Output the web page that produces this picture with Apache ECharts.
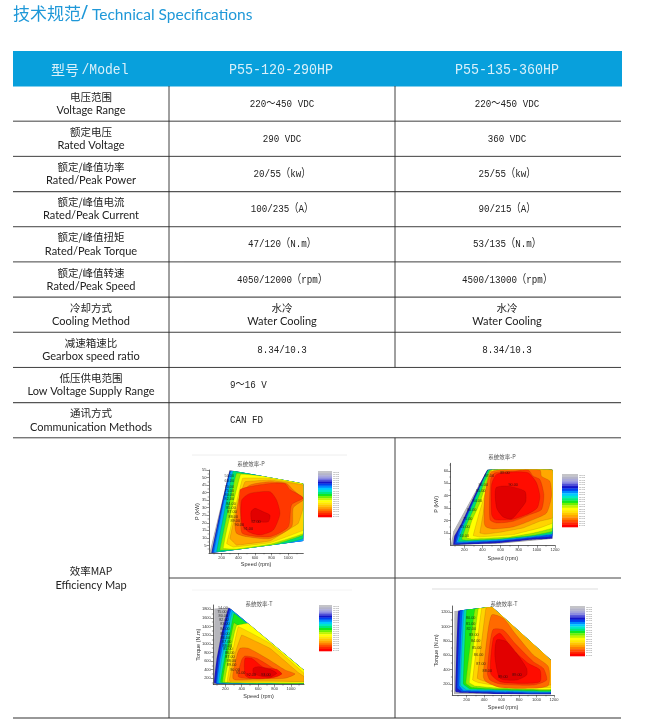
<!DOCTYPE html>
<html><head><meta charset="utf-8">
<style>html,body{margin:0;padding:0;background:#fff}#c{width:663px;height:727px;filter:blur(.3px)}</style>
<script src="https://cdn.jsdelivr.net/npm/echarts@6/dist/echarts.min.js"></script>
</head><body><div id="c"></div>
<script>
// ---------- table content ----------
const rowZh=["电压范围","额定电压","额定/峰值功率","额定/峰值电流","额定/峰值扭矩","额定/峰值转速","冷却方式","减速箱速比","低压供电范围","通讯方式"];
const rowEn=["Voltage Range","Rated Voltage","Rated/Peak Power","Rated/Peak Current","Rated/Peak Torque","Rated/Peak Speed","Cooling Method","Gearbox speed ratio","Low Voltage Supply Range","Communication Methods"];
const model1=["220～450 VDC","290 VDC","20/55（kw）","100/235（A）","47/120（N.m）","4050/12000（rpm）","水冷|Water Cooling","8.34/10.3","9～16 V","CAN FD"];
const model2=["220～450 VDC","360 VDC","25/55（kw）","90/215（A）","53/135（N.m）","4500/13000（rpm）","水冷|Water Cooling","8.34/10.3","",""];
const modelNames=["P55-120-290HP","P55-135-360HP"];

// ---------- efficiency contours: outlines in [speed, value], outermost first ----------
const map1Bands=[
[[52,0],[292,55],[1180,46],[1180,7.9],[80,0]],
[[80,0],[300,54.5],[1180,46.1],[1180,7.4],[100,0]],
[[88,0],[305,54.3],[1180,46.1],[1180,6.3],[800,2],[100,.3]],
[[108,.5],[312,54.3],[1180,46],[1180,7],[800,3],[400,1],[120,.3]],
[[140,.8],[340,54.3],[1180,46],[1180,9.6],[780,3.7],[380,1.2],[150,.8]],
[[180,1.9],[380,52.8],[1180,46],[1180,12],[800,5],[400,2],[200,2]],
[[220,3],[260,15],[428,52.1],[780,50.6],[1180,46],[1180,13],[780,5.8],[380,2.6]],
[[260,6.3],[300,15],[452,49.5],[780,49.5],[1180,45],[1180,15.2],[780,6.8],[340,3.9]],
[[300,9.6],[400,35],[480,47.2],[780,48.4],[1180,45],[1180,30],[1120,19.6],[780,8],[380,5.2]],
[[360,17.4],[420,38.4],[540,45],[780,47.2],[980,46],[1060,41.7],[1180,36.2],[1180,35],[1060,30],[1040,17.4],[780,9.6],[500,10.8],[380,13]],
[[428,24],[420,41.7],[540,44],[780,46.1],[960,46.1],[1020,42],[1180,36.5],[1040,32],[1000,17.4],[780,10.8],[450,13]],
[[440,19.6],[440,35],[540,39.5],[780,40.6],[860,35],[900,26],[820,15.2],[660,11.9],[520,14.1]],
[[552,27.3],[600,29.6],[700,27.3],[780,25.1],[760,20.7],[640,20.7],[560,21.8]]
];
const map1Labels=[[292,51.2,"50.00"],[292,47.7,"60.00"],[292,43.9,"70.00"],[292,41.3,"75.00"],[292,38.6,"80.00"],[292,36,"82.00"],[312,32.6,"84.00"],[312,30,"85.00"],[324,26.9,"87.00"],[340,24,"88.00"],[364,21.4,"89.00"],[412,18.5,"90.00"],[520,15.8,"91.00"],[612,20.3,"92.00"]];

const map2Bands=[
[[50,.3],[79,11.3],[453,61],[1173,61],[1173,5.1],[593,1.3],[116,.3]],
[[79,.5],[90,7.3],[171,18],[453,60.7],[1173,60.7],[1173,5.6],[960,4.6],[593,1.9],[116,.5]],
[[97,1.3],[134,11.3],[189,18.5],[464,60.7],[1173,60.7],[1173,7.3],[960,5.9],[593,3.2],[134,1.3]],
[[116,2.4],[160,13.2],[207,19.4],[464,60.7],[1173,60.7],[1173,8.9],[960,6.7],[593,3.8],[152,2.2]],
[[134,3.2],[189,14.8],[244,24.7],[464,60.7],[1173,60.7],[1173,9.4],[960,7.3],[593,4.6],[171,3]],
[[171,4.6],[226,16.7],[318,31.5],[483,60.7],[1173,60.7],[1173,11.3],[960,8],[593,5.1],[226,4]],
[[226,5.9],[281,19.4],[372,34.1],[501,60.7],[1173,60.7],[1173,14],[960,9.9],[703,6.7],[281,5.1]],
[[299,7.8],[354,23.4],[409,36.8],[530,60.7],[1173,60.7],[1173,18],[1033,14],[739,8.6],[372,6.7]],
[[372,9.9],[409,26],[439,44.9],[483,59.7],[1173,60.7],[1173,22],[1033,19.4],[850,14],[593,10.5],[428,9]],
[[420,18],[428,42.2],[490,58.3],[593,60.7],[1033,60.7],[1051,55.6],[1143,51.6],[1161,39.5],[1106,26],[960,20.7],[739,14.8],[519,13.2],[439,14.8]],
[[483,20.7],[490,53],[538,58.3],[758,59.7],[905,60.7],[960,55.6],[1033,53],[1077,40.9],[1051,28.8],[923,24.7],[739,19.4],[556,18]],
[[501,24.7],[501,48.9],[556,57],[739,59.1],[905,58.3],[996,50.3],[1033,39.5],[1004,30.1],[886,24.7],[721,20.7],[538,20.7]],
[[549,46.2],[684,47.6],[868,43.5],[879,35.5],[831,30.1],[721,21.2],[629,22.8],[556,30.1]]
];
const map2Labels=[[475,56.2,"87.00"],[648,58.3,"89.00"],[409,48.4,"86.00"],[739,48.9,"90.00"],[380,43.5,"85.00"],[343,36,"84.00"],[281,28.8,"80.00"],[237,21.5,"75.00"],[207,14.5,"65.00"],[200,7.8,"60.00"]];

const map3Bands=[
[[62,69],[66,1821],[249,1844],[1158,393],[1158,61]],
[[66,84],[94,625],[155,1242],[241,1837],[1158,393],[1158,69]],
[[86,84],[115,625],[176,1242],[257,1821],[1158,393],[1158,69],[94,69]],
[[103,84],[135,625],[196,1242],[273,1798],[1158,393],[1158,69]],
[[123,84],[155,625],[224,1242],[289,1744],[1158,393],[1158,69]],
[[143,100],[188,625],[257,1242],[306,1705],[1158,393],[1158,76]],
[[168,100],[216,702],[277,1242],[306,1489],[1158,393],[1158,84]],
[[196,107],[249,702],[310,1242],[338,1427],[480,1474],[1158,393],[1158,92]],
[[224,115],[277,702],[358,1397],[744,1011],[1158,316],[1158,123]],
[[249,161],[306,702],[399,1204],[744,895],[1089,331],[1158,239],[1158,123],[744,138],[257,131]],
[[297,185],[338,702],[379,895],[480,895],[703,663],[927,393],[1049,300],[927,200],[541,177]],
[[358,239],[399,625],[440,717],[582,663],[784,432],[886,316],[825,239],[500,192]],
[[440,277],[440,663],[521,663],[663,455],[825,408],[886,293],[744,200],[500,200]],
[[541,432],[602,470],[744,408],[825,316],[744,223],[622,254],[541,316]]
];
const map3Labels=[[172,1821,"54.00"],[159,1729,"75.00"],[176,1644,"80.00"],[184,1551,"82.00"],[196,1451,"83.00"],[196,1343,"84.00"],[196,1234,"85.00"],[200,1134,"86.00"],[216,1041,"87.00"],[224,957,"88.00"],[232,872,"85.00"],[253,794,"86.00"],[257,694,"87.00"],[273,594,"88.00"],[277,501,"89.00"],[318,393,"90.00"],[387,324,"91.00"],[517,269,"92.00"],[695,285,"93.00"]];

const map4Bands=[
[[55,56],[59,1218],[490,1279],[1166,535],[1166,56]],
[[74,93],[105,1223],[490,1279],[1166,535],[1166,47],[582,60],[124,79]],
[[93,140],[127,1228],[490,1279],[1166,535],[1166,70],[582,79],[143,93]],
[[116,172],[154,1232],[490,1279],[1166,535],[1166,84],[582,93],[162,107]],
[[131,181],[173,1232],[490,1279],[1166,535],[1166,93],[582,107],[200,116]],
[[162,200],[200,1237],[490,1279],[1166,535],[1166,102],[582,116],[238,130]],
[[192,209],[295,1246],[490,1279],[1166,535],[1166,116],[582,126],[257,153]],
[[231,219],[334,1251],[490,1279],[1166,535],[1166,126],[582,140],[295,172]],
[[269,256],[372,1256],[490,1279],[1166,535],[1166,153],[582,172],[334,219]],
[[322,279],[421,1260],[490,1279],[1166,535],[1166,186],[582,200],[391,242]],
[[391,302],[421,721],[486,1163],[620,1116],[753,907],[963,605],[1135,442],[1135,181],[963,140],[582,153],[421,233]],
[[437,349],[467,767],[505,963],[620,953],[753,767],[963,512],[1078,419],[1116,256],[963,186],[582,200],[467,256]],
[[475,349],[505,837],[582,907],[734,674],[906,488],[1040,395],[1040,233],[849,209],[582,233]],
[[524,581],[544,814],[658,791],[773,628],[887,419],[887,326],[773,256],[582,279]]
];
const map4Labels=[[246,1125,"80.00"],[246,1042,"81.00"],[253,963,"82.00"],[284,879,"83.00"],[303,800,"84.00"],[315,698,"85.00"],[337,600,"86.00"],[364,484,"87.00"],[437,386,"88.00"],[616,302,"89.00"],[776,326,"89.00"]];

// ---------- tick labels ----------
const map1XTicks=[200,400,600,800,1000], map1YTicks=[5,10,15,20,25,30,35,40,45,50,55];
const map2XTicks=[200,400,600,800,1000,1200], map2YTicks=[10,20,30,40,50,60];
const map3XTicks=[200,400,600,800,1000], map3YTicks=[200,400,600,800,1000,1200,1400,1600,1800];
const map4XTicks=[200,400,600,800,1000,1200], map4YTicks=[200,400,600,800,1000,1200];
const legendLevels=["54.00","60.00","65.00","70.00","75.00","78.00","80.00","82.00","83.00","84.00","85.00","86.00","87.00","88.00","88.50","89.00","89.50","90.00","90.50","91.00","91.50","92.00"];

// ---------- styles ----------
const colors14=["#b6b6bc","#1c1cc8","#0058f4","#00a8ff","#00e0b0","#18e818","#90f000","#ffff00","#ffd400","#ffa800","#ff6a00","#ff3800","#ff0c00","#e20000"];
const colors13=["#b6b6bc","#1c1cc8","#0058f4","#00a8ff","#00e070","#90f000","#ffff00","#ffd400","#ffa800","#ff6a00","#ff3800","#ff0c00","#e20000"];
const legendColors=["#c4c4c8","#b4b4c8","#a8a8d8","#8c8ce0","#5050d8","#1414c8","#0040f0","#0088ff","#00c8ff","#00e8c8","#00e880","#10e820","#70f000","#c0f400","#ffff00","#ffe800","#ffc800","#ffa800","#ff8000","#ff5000","#ff2800","#ff0000"];
const black="#222", cjk='"Noto Sans CJK SC"', latin='Lato,"Noto Sans CJK SC"', mono='"Liberation Mono","Noto Sans CJK SC"';

// ---------- layout of each map ----------
const maps=[
{bands:map1Bands,labels:map1Labels,colors:colors13,xT:map1XTicks,yT:map1YTicks,xM:[100,300,500,700,900,1100],yM:[2.5,7.5,12.5,17.5,22.5,27.5,32.5,37.5,42.5,47.5,52.5],
 grid:[209,470,303.3,553],x:[48,1180],y:[0,55],title:"系统效率-P",tx:251,ty:461,yName:"P (kW)",xName:"Speed (rpm)",xGap:8,yGap:9,leg:[318,471,14,46],rule:[192,347,455,"#eeeeee"]},
{bands:map2Bands,labels:map2Labels,colors:colors13,xT:map2XTicks,yT:map2YTicks,xM:[100,300,500,700,900,1100],yM:[5,15,25,35,45,55,65],
 grid:[450.7,463.3,555,545.3],x:[50,1200],y:[0,66],title:"系统效率-P",tx:502,ty:454,yName:"P (kW)",xName:"Speed (rpm)",xGap:10,yGap:11,leg:[562,474,16,53],rule:null},
{bands:map3Bands,labels:map3Labels,colors:colors14,xT:map3XTicks,yT:map3YTicks,xM:[100,300,500,700,900,1100],yM:[100,300,500,700,900,1100,1300,1500,1700],
 grid:[213.3,605,304,684.3],x:[54,1158],y:[60,1900],title:"系统效率-T",tx:259,ty:601,yName:"Torque (N.m)",xName:"Speed (rpm)",xGap:9,yGap:12,leg:[319,605,13,46],rule:[192,352,590,"#f4f4f4"]},
{bands:map4Bands,labels:map4Labels,colors:colors14,xT:map4XTicks,yT:map4YTicks,xM:[100,300,500,700,900,1100],yM:[100,300,500,700,900,1100],
 grid:[452.3,606,554,695],x:[36,1200],y:[47,1288],title:"系统效率-T",tx:504,ty:601,yName:"Torque (N.m)",xName:"Speed (rpm)",xGap:9,yGap:13,leg:[570,606,15,50],rule:[432,598,589,"#dddddd"]}
];

// ---------- table graphics ----------
const graphic=[];
function text(x,y,t,font,size,fill,align,sx){graphic.push({type:'text',silent:true,x,y,scaleX:sx||1,style:{text:t,font:size+'px '+font,fill:fill||'#222',textAlign:align||'center',textVerticalAlign:'middle'}});}
function line(x1,y1,x2,y2,c,w){graphic.push({type:'line',silent:true,shape:{x1,y1,x2,y2},style:{stroke:c||'#333',lineWidth:w||1}});}
text(13,14,"技术规范",cjk,17,"#1f98d8","left");
text(81,14,"/",'"Noto Sans"',19,"#1f98d8","left");
text(92,14.5,"Technical Specifications",'Lato',15.5,"#1f98d8","left");
graphic.push({type:'rect',silent:true,shape:{x:13,y:51,width:609,height:35.5},style:{fill:"#08a0dc"}});
text(65,70,"型号",cjk,14,"#d8f0fa");
text(105,70,"/Model",mono,14.5,"#d8f0fa","center",.9);
text(281,70,modelNames[0],mono,14.8,"#d8f0fa","center",.9);
text(507,70,modelNames[1],mono,14.8,"#d8f0fa","center",.9);
const top0=86, rowH=35.18;
rowZh.forEach((z,i)=>{
  const cy=top0+rowH*i+rowH/2, yl=top0+rowH*(i+1);
  text(91,cy-6.8,z,cjk,10.5);
  text(91,cy+6.8,rowEn[i],latin,11);
  line(13,yl,621,yl,i%3===2?'#555':'#2a2a2a',i%3===2?1.2:.9);
  [[model1[i],282],[model2[i],507]].forEach(([v,cx])=>{
    if(!v) return;
    if(v.includes("|")){const p=v.split("|");text(cx,cy-6.8,p[0],cjk,10.5);text(cx,cy+6.8,p[1],latin,11);}
    else if(i>=8){text(230,cy,v,mono,11.5,'#222','left',.8);}
    else text(cx,cy,v,mono,11.5,'#222','center',.8);
  });
});
const bottomY=718, midY=578, lastTop=top0+rowH*10;
text(91,571,"效率MAP",cjk,10.5);
text(91,585,"Efficiency Map",latin,11);
line(169,86,169,bottomY,'#2a2a2a',.9);
line(395,86,395,top0+rowH*8,'#2a2a2a',.9);
line(395,lastTop,395,bottomY,'#2a2a2a',.9);
line(169,midY,621,midY,'#444',1);
line(13,bottomY,621,bottomY,'#333',1.2);

// ---------- maps ----------
const grid=[],xAxis=[],yAxis=[],series=[],title=[];
const plainTick=v=>String(v);
maps.forEach((m,i)=>{
  grid.push({left:m.grid[0],top:m.grid[1],width:m.grid[2]-m.grid[0],height:m.grid[3]-m.grid[1],containLabel:false});
  title.push({text:m.title,left:m.tx,top:m.ty,padding:0,textAlign:'center',textStyle:{fontSize:5.5,fontWeight:'normal',color:'#555',fontFamily:cjk}});
  const lineS={show:true,onZero:false,lineStyle:{color:black,width:.7}};
  xAxis.push({type:'value',gridIndex:i,position:'bottom',min:m.x[0],max:m.x[1],splitLine:{show:false},axisLine:lineS,
    axisTick:{show:true,length:2.5,customValues:m.xT,lineStyle:{color:black,width:.5}},
    axisLabel:{customValues:m.xT,formatter:plainTick,fontSize:4,color:'#333',margin:2.5,fontFamily:'Liberation Sans'},
    name:m.xName,nameLocation:'middle',nameGap:m.xGap,nameMoveOverlap:false,nameTextStyle:{fontSize:5.5,color:'#333',fontFamily:'Liberation Sans'}});
  xAxis.push({type:'value',gridIndex:i,position:'bottom',min:m.x[0],max:m.x[1],splitLine:{show:false},axisLine:{show:false},
    axisTick:{show:true,length:1.4,customValues:m.xM,lineStyle:{color:black,width:.4}},axisLabel:{show:false}});
  yAxis.push({type:'value',gridIndex:i,position:'left',min:m.y[0],max:m.y[1],splitLine:{show:false},axisLine:lineS,
    axisTick:{show:true,length:2.5,customValues:m.yT,lineStyle:{color:black,width:.5}},
    axisLabel:{customValues:m.yT,formatter:plainTick,fontSize:4,color:'#333',margin:2.5,fontFamily:'Liberation Sans'},
    name:m.yName,nameLocation:'middle',nameGap:m.yGap,nameMoveOverlap:false,nameTextStyle:{fontSize:5.5,color:'#333',fontFamily:'Liberation Sans'}});
  yAxis.push({type:'value',gridIndex:i,position:'left',min:m.y[0],max:m.y[1],splitLine:{show:false},axisLine:{show:false},
    axisTick:{show:true,length:1.4,customValues:m.yM,lineStyle:{color:black,width:.4}},axisLabel:{show:false}});
  const nb=m.bands.length;
  series.push({type:'custom',coordinateSystem:'cartesian2d',xAxisIndex:i*2,yAxisIndex:i*2,silent:true,clip:false,
    data:m.bands.map((b,k)=>[k]),
    renderItem(params,api){
      const k=api.value(0);
      const pts=m.bands[k].map(p=>api.coord(p));
      const env=m.bands[0].map(p=>api.coord(p));
      return {type:'polygon',shape:{points:pts,smooth:k===0?0:(k<nb-4?0.04:0.22)},
        clipPath:{type:'polygon',shape:{points:env}},
        style:{fill:m.colors[k],stroke:'rgba(40,20,0,.45)',lineWidth:.25}};
    }});
  series.push({type:'scatter',xAxisIndex:i*2,yAxisIndex:i*2,silent:true,symbolSize:0,clip:false,z:5,
    data:m.labels,
    label:{show:true,position:'inside',formatter:p=>p.value[2],fontSize:3.8,color:'#111',fontFamily:'Liberation Sans'}});
  const [lx,ly,lw,lh]=m.leg, n=legendColors.length;
  legendColors.forEach((c,k)=>{
    graphic.push({type:'rect',silent:true,shape:{x:lx,y:ly+lh*k/n,width:lw,height:lh/n+.3},style:{fill:c}});
    graphic.push({type:'text',silent:true,x:lx+lw+1,y:ly+lh*(k+.5)/n,style:{text:legendLevels[n-1-k],font:'2.4px "Liberation Sans"',fill:'#777',textVerticalAlign:'middle'}});
  });
  if(m.rule) line(m.rule[0],m.rule[2],m.rule[1],m.rule[2],m.rule[3],1);
});

const chart=echarts.init(document.getElementById('c'),null,{width:663,height:727,renderer:'canvas'});
chart.setOption({animation:false,backgroundColor:'#fff',title,grid,xAxis,yAxis,series,graphic:{elements:graphic}});
</script></body></html>
